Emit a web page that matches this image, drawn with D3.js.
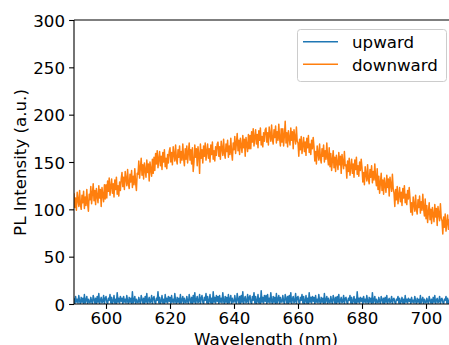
<!DOCTYPE html>
<html><head><meta charset="utf-8">
<script src="https://cdn.jsdelivr.net/npm/d3@7"></script>
<style>body{margin:0;background:#fff;overflow:hidden}svg{display:block}text{font-family:"DejaVu Sans",sans-serif;fill:#000}</style>
</head><body>
<script>
const seriesNames = ["upward", "downward"];
const seriesColors = ["#1f77b4", "#ff7f0e"];
const wavelength = d3.range(590, 708.1, 0.25);
const upward = [
6,0,8,2,5,1,9,3,0,7,2,6,0,10,1,4,8,0,5,2,
1,7,3,0,9,5,1,6,0,8,2,11,0,4,7,1,3,9,0,6,
8,2,0,6,4,10,1,7,0,3,9,1,5,0,12,2,6,1,8,3,
6,0,8,2,5,1,9,3,0,7,2,6,0,13,1,4,8,0,5,2,
1,7,3,0,9,5,1,6,0,8,2,11,0,4,7,1,3,9,0,6,
8,2,0,6,4,13,1,7,0,3,9,1,5,0,10,2,6,1,8,3,
7,0,9,2,5,1,11,3,0,7,2,6,0,10,1,4,8,0,6,2,
1,8,3,0,10,5,1,7,0,9,2,12,0,4,8,1,3,10,0,6,
9,2,0,7,4,11,1,8,0,3,10,1,6,0,13,2,7,1,9,3,
8,0,9,2,6,1,12,3,0,8,2,7,0,10,1,5,9,0,6,2,
2,9,3,0,11,5,1,8,0,9,2,13,0,5,8,1,3,10,0,7,
9,2,0,8,4,12,1,8,0,3,10,1,6,0,14,2,7,1,9,3,
9,0,10,2,6,1,12,3,0,8,2,7,0,11,1,5,9,0,7,2,
2,9,3,0,10,6,1,8,0,9,2,12,0,5,8,1,3,11,0,7,
8,2,0,7,4,10,1,8,0,3,9,1,6,0,12,2,7,1,8,3,
7,0,9,2,5,1,10,3,0,7,2,6,0,11,1,4,8,0,6,2,
1,8,3,0,9,5,1,7,0,8,2,10,0,4,7,1,3,9,0,6,
7,2,0,6,4,9,1,7,0,3,8,1,5,0,13,2,6,1,7,3,
6,0,8,2,5,1,9,3,0,7,2,6,0,12,1,4,8,0,5,2,
1,7,3,0,8,5,1,6,0,7,2,9,0,4,6,1,3,8,0,5,
6,2,0,5,4,8,1,6,0,3,7,1,5,0,9,2,5,1,6,3,
5,0,7,2,4,1,8,3,0,6,2,5,0,9,1,4,7,0,5,2,
1,6,3,0,8,4,1,5,0,7,2,9,0,4,6,1,3,8,0,5,
6,2,0,5,4,8,1,6,0,3,7,1,5
];
const downward = [
117,102,112,99,118,110,103,120,105,100,115,107,119,101,113,104,121,106,98,116,
110,124,106,117,127,109,120,105,122,114,107,125,112,121,103,123,115,108,126,111,
126,112,130,119,133,115,124,132,117,127,113,131,121,134,116,125,114,129,120,132,
139,124,134,121,140,132,125,142,127,122,137,129,141,123,135,126,143,128,120,138,
137,151,133,144,154,136,147,132,149,141,134,152,139,148,130,150,142,135,153,138,
155,141,159,148,162,144,153,161,146,156,142,160,150,163,145,154,143,158,149,161,
165,150,160,147,166,158,151,168,153,148,163,155,167,149,161,152,169,154,146,164,
153,167,149,160,170,152,163,148,165,140,150,168,155,164,146,166,158,138,169,154,
163,149,167,156,170,152,161,169,154,164,150,168,158,171,153,162,151,166,157,169,
171,156,166,153,172,164,157,174,159,154,169,161,173,155,167,158,175,160,152,170,
163,177,159,170,180,162,173,158,175,167,160,178,165,174,156,176,168,161,179,164,
178,164,182,171,185,167,176,184,169,179,165,183,173,186,168,177,166,181,172,184,
186,171,181,168,187,179,172,189,174,169,184,176,188,170,182,173,190,175,167,185,
171,185,167,178,193,170,181,166,183,175,168,186,173,182,164,184,176,169,187,172,
170,156,174,163,177,159,168,176,161,171,157,175,165,178,160,169,158,173,164,176,
166,151,161,148,167,159,152,169,154,149,164,156,168,150,162,153,170,155,147,165,
145,159,141,152,162,144,155,140,157,149,142,160,147,156,138,158,150,143,161,146,
147,133,151,140,154,136,145,153,138,148,134,152,142,155,137,146,135,150,141,153,
144,129,139,126,145,137,130,147,132,127,142,134,146,128,140,131,148,133,125,143,
121,135,117,128,138,120,131,116,133,125,118,136,123,132,114,134,126,119,137,122,
117,103,121,110,124,106,115,123,108,118,104,122,112,125,107,116,105,120,111,123,
112,97,107,94,113,105,98,115,100,95,110,102,114,96,108,99,116,101,93,111,
90,104,86,97,107,89,100,85,102,94,87,105,92,101,83,103,95,88,106,91,
88,74,92,81,95,77,86,94,79,89,75,93,83
];
const xTicks = [600, 620, 640, 660, 680, 700];
const yTicks = [0, 50, 100, 150, 200, 250, 300];
const xLabel = "Wavelength (nm)";
const yLabel = "PL Intensity (a.u.)";

const W = 449, H = 345;
const L = 74, T = 20, R = 458, B = 304;
const svg = d3.select("body").append("svg").attr("width", W).attr("height", H);
const x = d3.scaleLinear().domain([590, 710]).range([L, R]);
const y = d3.scaleLinear().domain([0, 300]).range([B, T]);

svg.append("clipPath").attr("id","clip").append("rect")
  .attr("x", L).attr("y", T).attr("width", R - L).attr("height", B - T);

const line = d3.line().x(d => x(d[0])).y(d => y(d[1]));
[upward, downward].forEach((vals, i) => {
  svg.append("path")
    .datum(wavelength.map((w, j) => [w, vals[j]]).filter(d => d[1] !== undefined))
    .attr("clip-path", "url(#clip)")
    .attr("fill", "none")
    .attr("stroke", seriesColors[i])
    .attr("stroke-width", 1.5)
    .attr("stroke-linejoin", "round")
    .attr("d", line);
});

// spines
svg.append("line").attr("x1", L).attr("x2", R).attr("y1", T).attr("y2", T).attr("stroke","#000").attr("stroke-width",1.1);
svg.append("line").attr("x1", L).attr("x2", R).attr("y1", B).attr("y2", B).attr("stroke","#000").attr("stroke-width",1.1);
svg.append("line").attr("x1", L).attr("x2", L).attr("y1", T).attr("y2", B).attr("stroke","#000").attr("stroke-width",1.1);
svg.append("line").attr("x1", R).attr("x2", R).attr("y1", T).attr("y2", B).attr("stroke","#000").attr("stroke-width",1.1);

// axes
const xAxis = d3.axisBottom(x).tickValues(xTicks).tickSize(4.9).tickPadding(4.9);
const gx = svg.append("g").attr("transform", `translate(0,${B})`).call(xAxis);
const yAxis = d3.axisLeft(y).tickValues(yTicks).tickSize(4.9).tickPadding(4.9);
const gy = svg.append("g").attr("transform", `translate(${L},0)`).call(yAxis);
[gx, gy].forEach(g => {
  g.select(".domain").remove();
  g.selectAll(".tick line").attr("stroke", "#000").attr("stroke-width", 1.1);
  g.selectAll(".tick text").attr("font-size", "16.67px").attr("font-family", "DejaVu Sans").attr("fill", "#000");
});
gx.selectAll(".tick text").attr("dy", null).attr("y", 19.5);
gy.selectAll(".tick text").attr("dy", null).attr("y", 6.2).attr("x", -9);

svg.append("text").attr("x", (L + R) / 2).attr("y", 345).attr("text-anchor", "middle")
  .attr("font-size", "16.67px").text(xLabel);
svg.append("text").attr("transform", "translate(26,162.5) rotate(-90)").attr("text-anchor", "middle")
  .attr("font-size", "16.67px").text(yLabel);

// legend
const lg = svg.append("g");
lg.append("rect").attr("x", 297.5).attr("y", 29.5).attr("width", 149).attr("height", 52)
  .attr("rx", 3).attr("fill", "#fff").attr("fill-opacity", 0.8).attr("stroke", "#cccccc").attr("stroke-width", 1);
seriesNames.forEach((n, i) => {
  const ly = 41.7 + i * 22.6;
  lg.append("line").attr("x1", 303).attr("x2", 338).attr("y1", ly).attr("y2", ly)
    .attr("stroke", seriesColors[i]).attr("stroke-width", 1.5);
  lg.append("text").attr("x", 352).attr("y", ly + 6.2).attr("font-size", "16.67px").text(n);
});
</script>
</body></html>
